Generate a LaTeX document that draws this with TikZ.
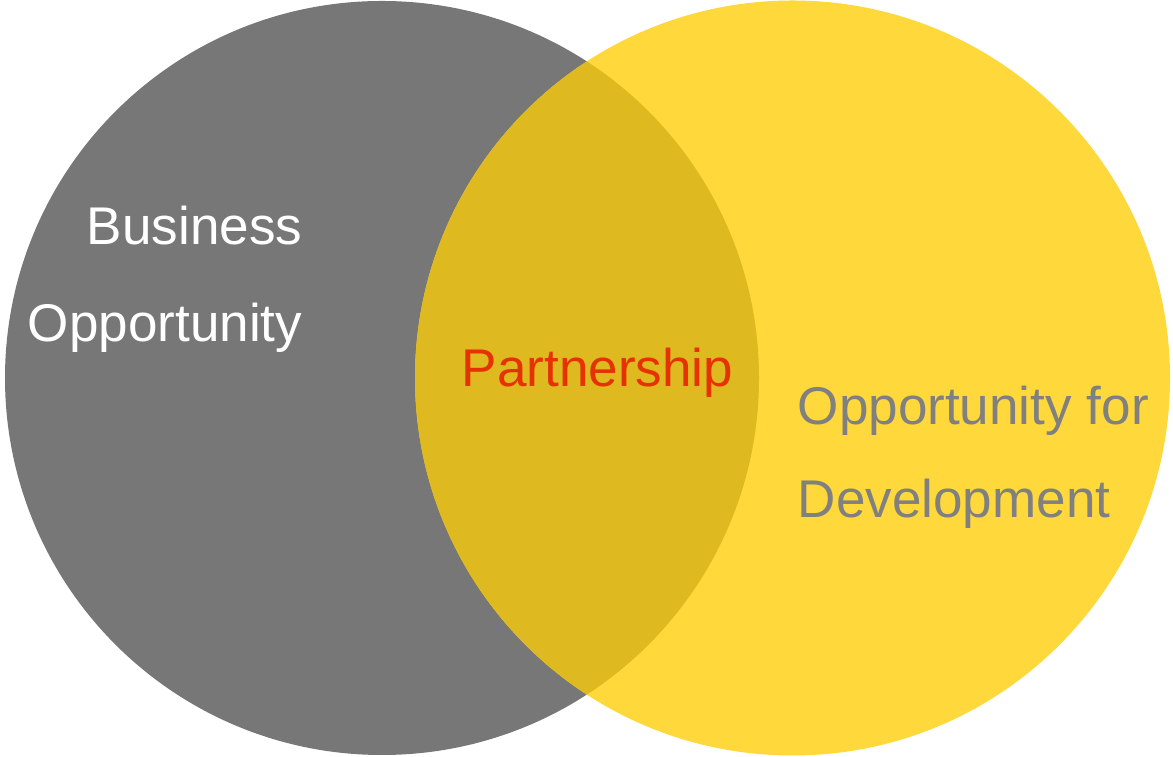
\documentclass[tikz,border=0pt]{standalone}
\usepackage{fontspec}
\setmainfont{Liberation Sans}
\definecolor{leftgray}{HTML}{777777}
\definecolor{rightyellow}{HTML}{FFD83B}
\definecolor{overlapyellow}{HTML}{DEB91F}
\definecolor{partred}{HTML}{E63200}
\definecolor{textgray}{HTML}{808080}
\tikzset{
    label text/.style={inner sep=0pt, font=\fontsize{15.1}{18}\selectfont},
}
\begin{document}
\begin{tikzpicture}
        \useasboundingbox (0,0) rectangle (11.73,7.57);
        \fill[white] (0,0) rectangle (11.73,7.57);

        \fill[leftgray] (3.82,3.79) circle (3.77);
        \fill[rightyellow] (7.925,3.79) circle (3.775);
        \begin{scope}
            \clip (3.82,3.79) circle (3.77);
            \fill[overlapyellow] (7.925,3.79) circle (3.775);
        \end{scope}

        \node[label text, white, anchor=base east] (business) at (3.03,5.12) {Business};
        \node[label text, white, anchor=base east] (opportunity) at (3.03,4.15) {Opportunity};
        \node[label text, partred, anchor=base west] (partnership) at (4.61,3.70) {Partnership};
        \node[label text, textgray, anchor=base west] (oppfor) at (7.97,3.32) {Opportunity for};
        \node[label text, textgray, anchor=base west] (development) at (7.97,2.39) {Development};

\end{tikzpicture}
\end{document}
